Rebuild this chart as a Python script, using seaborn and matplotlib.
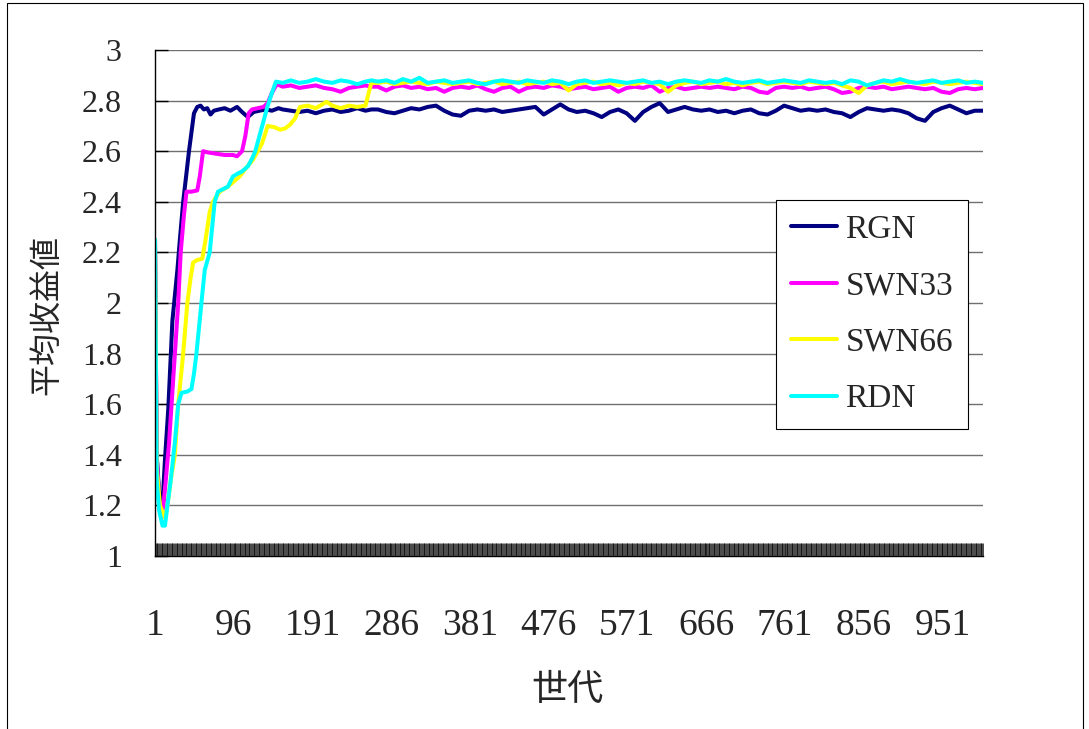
import matplotlib
matplotlib.use("Agg")
import matplotlib.pyplot as plt
import seaborn as sns
import pandas as pd
from matplotlib.patches import Rectangle

# ---------------- data ----------------
series_names = ["RGN", "SWN33", "SWN66", "RDN"]
series_colors = ["#000080", "#FF00FF", "#FFFF00", "#00FFFF"]

x_tick_labels = [1, 96, 191, 286, 381, 476, 571, 666, 761, 856, 951]
y_tick_values = [1, 1.2, 1.4, 1.6, 1.8, 2, 2.2, 2.4, 2.6, 2.8, 3]
x_label = "世代"
y_label = "平均收益値"

# early part (generations 1..262), read per series
rgn_early_gen = [1, 3, 6, 10, 13, 17, 22, 28, 31, 35, 42, 48, 52, 56, 60, 64, 68, 72, 78, 85,
                 92, 100, 106, 113, 120, 127, 135, 142, 150, 155, 165, 175, 185, 195, 205, 215,
                 225, 235, 245, 255, 262]
rgn_early = [2.25, 1.4, 1.25, 1.2, 1.38, 1.58, 1.93, 2.13, 2.25, 2.4, 2.6, 2.75, 2.775, 2.78,
             2.765, 2.77, 2.745, 2.76, 2.765, 2.77, 2.76, 2.775, 2.755, 2.735, 2.755, 2.76,
             2.765, 2.76, 2.77, 2.765, 2.76, 2.755, 2.76, 2.75, 2.76, 2.765, 2.755, 2.76,
             2.77, 2.76, 2.765]

swn33_early_gen = [1, 3, 6, 10, 14, 18, 21, 25, 29, 32, 36, 39, 45, 52, 55, 59, 65, 75, 85, 95,
                   100, 106, 110, 114, 118, 125, 132, 137, 142, 148, 155, 165, 175, 185, 195,
                   205, 215, 225, 235, 245, 255, 262]
swn33_early = [2.25, 1.4, 1.22, 1.155, 1.3, 1.45, 1.6, 1.8, 2.0, 2.2, 2.35, 2.44, 2.44, 2.445,
               2.5, 2.6, 2.595, 2.59, 2.585, 2.585, 2.58, 2.6, 2.66, 2.75, 2.765, 2.77, 2.775,
               2.79, 2.83, 2.865, 2.855, 2.86, 2.85, 2.855, 2.86, 2.85, 2.845, 2.835, 2.85,
               2.855, 2.86, 2.855]

swn66_early_gen = [1, 3, 7, 13, 16, 20, 25, 29, 35, 40, 44, 47, 52, 58, 62, 67, 71, 79, 89, 96,
                   103, 110, 119, 125, 130, 137, 145, 152, 158, 164, 170, 176, 185, 195, 208,
                   215, 225, 235, 245, 255, 258, 262]
swn66_early = [2.25, 1.35, 1.2, 1.15, 1.2, 1.3, 1.4, 1.6, 1.8, 2.0, 2.1, 2.16, 2.17, 2.175,
               2.25, 2.36, 2.4, 2.44, 2.46, 2.48, 2.5, 2.53, 2.565, 2.6, 2.63, 2.7, 2.695,
               2.685, 2.69, 2.705, 2.73, 2.775, 2.78, 2.77, 2.795, 2.78, 2.77, 2.78, 2.775,
               2.78, 2.82, 2.87]

rdn_early_gen = [1, 3, 6, 10, 13, 16, 20, 25, 29, 33, 40, 45, 48, 51, 57, 61, 67, 73, 77, 83,
                 89, 95, 100, 106, 113, 118, 122, 127, 132, 137, 142, 147, 155, 165, 175, 185,
                 195, 205, 215, 225, 235, 245, 255, 262]
rdn_early = [2.25, 1.3, 1.18, 1.12, 1.12, 1.2, 1.3, 1.45, 1.6, 1.645, 1.65, 1.66, 1.72, 1.8,
             2.0, 2.13, 2.2, 2.4, 2.44, 2.45, 2.46, 2.5, 2.51, 2.52, 2.54, 2.57, 2.6, 2.66,
             2.72, 2.78, 2.83, 2.875, 2.87, 2.88, 2.87, 2.875, 2.885, 2.875, 2.87, 2.88,
             2.875, 2.865, 2.875, 2.88]

# late part: generations 270, 280, ..., 1000
late_gen = list(range(270, 1001, 10))
rgn_late = [2.765, 2.755, 2.75, 2.76, 2.77, 2.765, 2.775, 2.78, 2.76, 2.745,
            2.74, 2.76, 2.765, 2.76, 2.765, 2.755, 2.76, 2.765, 2.77, 2.775,
            2.745, 2.765, 2.785, 2.765, 2.755, 2.76, 2.75, 2.735, 2.755, 2.765,
            2.75, 2.72, 2.755, 2.775, 2.79, 2.755, 2.765, 2.775, 2.765, 2.76,
            2.765, 2.755, 2.76, 2.75, 2.76, 2.765, 2.75, 2.745, 2.76, 2.78,
            2.77, 2.76, 2.765, 2.76, 2.765, 2.755, 2.75, 2.735, 2.755, 2.77,
            2.765, 2.76, 2.765, 2.76, 2.75, 2.73, 2.72, 2.755, 2.77, 2.78,
            2.765, 2.75, 2.76, 2.76]
swn33_late = [2.855, 2.84, 2.855, 2.86, 2.85, 2.855, 2.845, 2.85, 2.835, 2.85,
              2.855, 2.85, 2.86, 2.845, 2.835, 2.85, 2.855, 2.835, 2.85, 2.855,
              2.85, 2.86, 2.855, 2.845, 2.85, 2.855, 2.845, 2.85, 2.855, 2.835,
              2.85, 2.855, 2.85, 2.86, 2.835, 2.85, 2.855, 2.845, 2.85, 2.855,
              2.85, 2.855, 2.85, 2.845, 2.855, 2.85, 2.835, 2.83, 2.85, 2.855,
              2.85, 2.855, 2.845, 2.85, 2.855, 2.845, 2.83, 2.835, 2.85, 2.855,
              2.85, 2.855, 2.845, 2.85, 2.855, 2.85, 2.845, 2.85, 2.835, 2.83,
              2.845, 2.85, 2.845, 2.85]
swn66_late = [2.87, 2.875, 2.865, 2.87, 2.875, 2.87, 2.865, 2.875, 2.87, 2.865,
              2.87, 2.875, 2.865, 2.87, 2.875, 2.865, 2.87, 2.875, 2.865, 2.87,
              2.875, 2.865, 2.87, 2.84, 2.865, 2.87, 2.875, 2.865, 2.87, 2.86,
              2.87, 2.865, 2.875, 2.87, 2.865, 2.835, 2.86, 2.87, 2.875, 2.865,
              2.87, 2.875, 2.865, 2.87, 2.86, 2.87, 2.875, 2.865, 2.87, 2.875,
              2.87, 2.865, 2.875, 2.87, 2.865, 2.87, 2.86, 2.85, 2.83, 2.86,
              2.87, 2.875, 2.865, 2.87, 2.875, 2.87, 2.865, 2.875, 2.87, 2.865,
              2.87, 2.875, 2.87, 2.865]
rdn_late = [2.875, 2.88, 2.87, 2.885, 2.875, 2.89, 2.87, 2.875, 2.88, 2.87,
            2.875, 2.88, 2.87, 2.865, 2.875, 2.88, 2.875, 2.87, 2.88, 2.875,
            2.87, 2.88, 2.875, 2.865, 2.875, 2.88, 2.87, 2.875, 2.88, 2.875,
            2.87, 2.875, 2.88, 2.87, 2.875, 2.865, 2.875, 2.88, 2.875, 2.87,
            2.88, 2.875, 2.885, 2.875, 2.87, 2.875, 2.88, 2.87, 2.875, 2.88,
            2.875, 2.87, 2.88, 2.875, 2.87, 2.875, 2.865, 2.88, 2.875, 2.86,
            2.87, 2.88, 2.875, 2.885, 2.875, 2.87, 2.875, 2.88, 2.87, 2.875,
            2.88, 2.87, 2.875, 2.87]

# ---------------- table ----------------
parts = [
    ("RGN", rgn_early_gen, rgn_early, rgn_late),
    ("SWN33", swn33_early_gen, swn33_early, swn33_late),
    ("SWN66", swn66_early_gen, swn66_early, swn66_late),
    ("RDN", rdn_early_gen, rdn_early, rdn_late),
]
rows = []
for name, eg, ev, lv in parts:
    for g, v in zip(eg + late_gen, ev + lv):
        rows.append({"series": name, "gen": g, "value": v})
df = pd.DataFrame(rows)

# ---------------- plot ----------------
sns.set_style("white")
plt.rcParams["font.family"] = ["Liberation Serif", "Noto Sans CJK JP"]

W, H = 1089, 729
fig = plt.figure(figsize=(W / 100, H / 100), dpi=100)
ax = fig.add_axes([155 / W, (H - 556) / H, (983 - 155) / W, (556 - 50) / H])

for name, col in zip(series_names, series_colors):
    sub = df[df["series"] == name]
    sns.lineplot(data=sub, x="gen", y="value", color=col, linewidth=2.9,
                 label=name, ax=ax, estimator=None, sort=True)

ax.set_xlim(1, 1000)
ax.set_ylim(1, 3)

ax.set_xticks(x_tick_labels)
ax.set_xticklabels([str(t) for t in x_tick_labels])
ax.set_xticks(list(range(1, 1001)), minor=True)
ax.set_yticks(y_tick_values)
ax.set_yticklabels([f"{v:g}" for v in y_tick_values])

ax.tick_params(axis="x", which="both", bottom=True, top=False)
ax.tick_params(axis="x", which="major", direction="in", length=9.5, width=0.6,
               color="black", labelsize=27, pad=38)
ax.tick_params(axis="x", which="minor", direction="in", length=9.5, width=0.5,
               color="black")
ax.tick_params(axis="y", which="major", direction="in", length=9, width=1,
               color="black", labelsize=23, pad=24, left=True)

ax.yaxis.grid(True, color="#707070", linewidth=1.0)
ax.xaxis.grid(False)
ax.set_axisbelow(True)

for s in ["top", "right"]:
    ax.spines[s].set_visible(False)
for s in ["left", "bottom"]:
    ax.spines[s].set_color("black")
    ax.spines[s].set_linewidth(1.0)

ax.set_xlabel(x_label, fontsize=26, family=["Noto Sans CJK JP"])
ax.set_ylabel(y_label, fontsize=23, family=["Noto Sans CJK JP"])
ax.xaxis.set_label_coords(0.4976, -0.229)
ax.yaxis.set_label_coords(-0.112, 0.476)

leg = ax.legend(loc="upper left", bbox_to_anchor=(0.75, 0.7036), fontsize=24,
                frameon=True, fancybox=False, framealpha=1, edgecolor="black",
                handlelength=1.38, handletextpad=0.27, labelspacing=0.78,
                borderpad=0.435, borderaxespad=0)
leg.get_frame().set_linewidth(0.8)

fig.patches.append(Rectangle((7 / W, -0.01), (1083 - 7) / W, 1 - 3 / H + 0.01,
                             transform=fig.transFigure, fill=False,
                             edgecolor="black", linewidth=0.8))

fig.savefig("out.png", dpi=100)
